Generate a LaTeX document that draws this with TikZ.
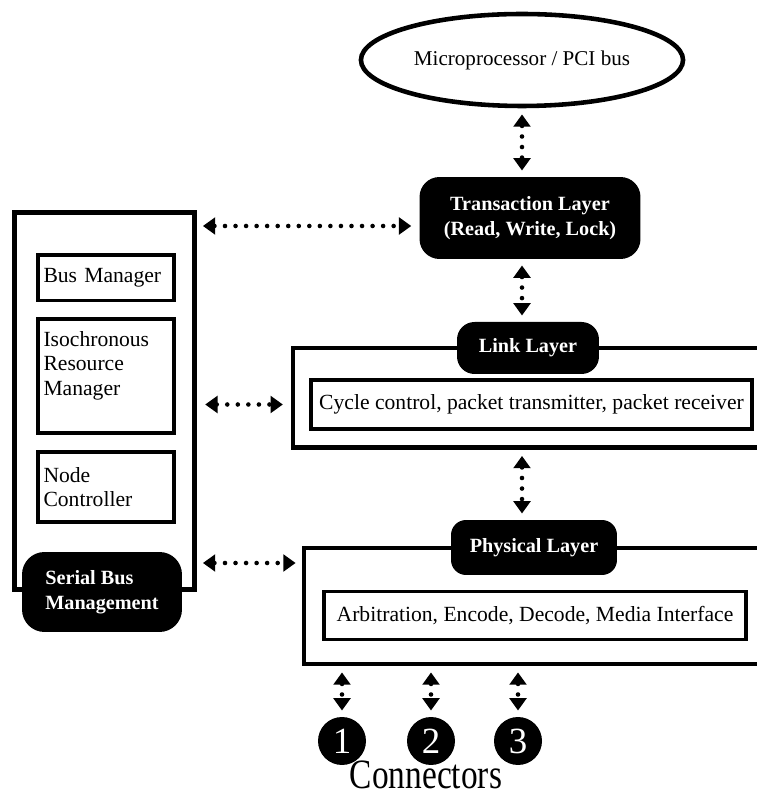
\documentclass[tikz,border=0pt]{standalone}
\usepackage{fontspec}
\setmainfont{Liberation Serif}
\usepackage{graphicx}
\usetikzlibrary{arrows.meta,shapes.geometric}

\begin{document}
\begin{tikzpicture}[
    x=0.02cm, y=0.02cm,
    frame/.style={draw, line width=2.6pt},
    box/.style={draw, line width=2pt, font=\fontsize{12.3}{14}\selectfont},
    leftbox/.style={box, text width=2.5cm, inner xsep=3pt, align=left},
    layer/.style={fill=black, text=white, rounded corners=0.35cm, align=center, font=\fontsize{11.5}{14}\selectfont\bfseries},
    ptr/.style={{Triangle[length=7pt,width=9.5pt]}-{Triangle[length=7pt,width=9.5pt]}, line width=2.6pt, line cap=round, dash pattern=on 0pt off 6pt, shorten <=3.5pt, shorten >=3.5pt},
    conn/.style={circle, fill=black, minimum size=0.96cm, inner sep=0pt, text=white, font=\fontsize{21}{21}\selectfont}
]
\useasboundingbox (0,0) rectangle (757,791);
\clip (0,0) rectangle (757,791);

% Bus
\node[ellipse, draw, line width=2.6pt, minimum width=5.9cm, minimum height=1.84cm, font=\fontsize{12}{14}\selectfont] (bus) at (522,731) {Microprocessor / PCI bus};

% Transaction layer
\node[layer, rounded corners=0.4cm, minimum width=4.42cm, minimum height=1.64cm] (trans) at (530,573) {Transaction Layer\\(Read, Write, Lock)};

% Serial bus management
\node[frame, minimum width=3.6cm, minimum height=7.54cm] (sbmframe) at (104.5,390) {};
\node[leftbox, minimum height=0.91cm] (busmgr) at (106,513.3) {Bus Manager};
\node[leftbox, minimum height=2.28cm] (irm) at (106,415.2) {Isochronous\\Resource\\Manager\\\mbox{}};
\node[leftbox, minimum height=1.4cm] (nodectl) at (106,304) {Node\\Controller};
\node[layer, rounded corners=0.45cm, minimum width=3.2cm, minimum height=1.6cm, align=left] (sbm) at (102,199) {Serial Bus\\Management};

% Link layer
\node[frame, minimum width=10.14cm, minimum height=1.99cm] (linkframe) at (546.5,393.25) {};
\node[box, minimum width=8.82cm, minimum height=0.98cm] (linkfun) at (531.5,386.5) {Cycle control, packet transmitter, packet receiver};
\node[layer, minimum width=2.84cm, minimum height=1.04cm] (link) at (528,443) {Link Layer};

% Physical layer
\node[frame, minimum width=9.92cm, minimum height=2.32cm] (physframe) at (552,185) {};
\node[box, minimum width=8.44cm, minimum height=0.96cm] (physfun) at (535,175.5) {Arbitration, Encode, Decode, Media Interface};
\node[layer, rounded corners=0.3cm, minimum width=3.32cm, minimum height=1.1cm] (phys) at (534,243.5) {Physical Layer};

% Connectors
\node[conn] (conn1) at (342,50) {1};
\node[conn] (conn2) at (431,50) {2};
\node[conn] (conn3) at (518,50) {3};
\node[anchor=base, inner sep=0pt, font=\fontsize{19}{19}\selectfont] (connlabel) at (426,3) {\scalebox{1}[1.25]{Connectors}};

% Arrows
\draw[ptr] (bus.south) -- (bus.south |- trans.north);
\draw[ptr] (trans.south -| bus.south) -- (link.north -| bus.south);
\draw[ptr] (linkframe.south -| bus.south) -- (phys.north -| bus.south);
\coordinate (transin) at ([yshift=-0.16cm]trans.west);
\draw[ptr, shorten >=4.5pt] (sbmframe.east |- transin) -- (transin);
\draw[ptr, shorten <=4.8pt, shorten >=4.5pt] (sbmframe.east |- linkfun.west) -- (linkframe.west |- linkfun.west);
\coordinate (physin) at (physframe.west |- 0,228);
\draw[ptr] (sbmframe.east |- physin) -- (physin);
\foreach \i in {1,2,3}
    \draw[ptr] (physframe.south -| conn\i.north) -- (conn\i.north);
\end{tikzpicture}
\end{document}
